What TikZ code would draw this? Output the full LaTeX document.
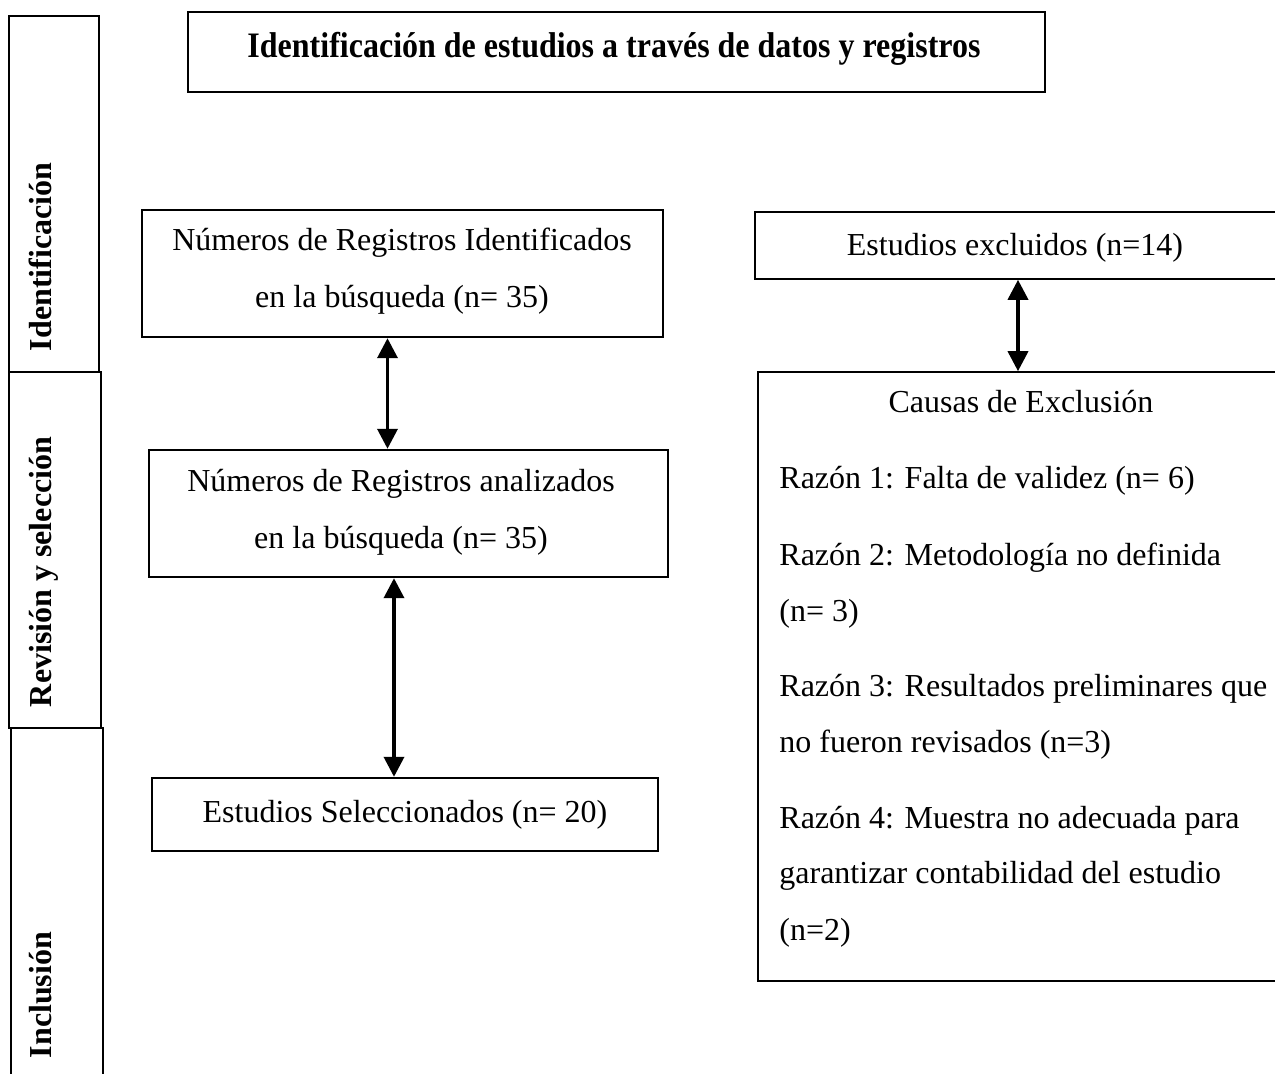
\documentclass[tikz,border=0pt]{standalone}
\usepackage{fontspec}
\setmainfont{Liberation Serif}
\usetikzlibrary{arrows.meta,fit}
\begin{document}
\begin{tikzpicture}[x=0.5pt,y=-0.5pt,
  frame/.style={draw,inner sep=0pt,line width=1.2pt},
  thinframe/.style={draw,inner sep=0pt,line width=0.8pt},
  sideframe/.style={draw,inner sep=0pt,line width=1.4pt},
  txt/.style={inner sep=0pt,font=\fontsize{16}{19}\selectfont},
  vlab/.style={inner sep=0pt,rotate=90,anchor=base,font=\fontsize{16}{19}\selectfont\bfseries},
  arr/.style={{Triangle[width=10pt,length=10pt]}-{Triangle[width=10pt,length=10pt]},line width=1.8pt}]
\useasboundingbox (0,0) rectangle (1275,1074);
\clip (0,0) rectangle (1275,1074);
\fill[white] (0,0) rectangle (1275,1074);

% left phase column
\node[sideframe,fit={(9,16) (99,372)}] (ph1) {};
\node[sideframe,fit={(9,372) (101,728)}] (ph2) {};
\node[sideframe,fit={(11,728) (103,1100)}] (ph3) {};
\node[vlab] (ph1t) at (51,257) {Identificación};
\node[vlab] (ph2t) at (51,572) {Revisión y selección};
\node[vlab] (ph3t) at (51,995) {Inclusión};

% title
\node[sideframe,fit={(188,12) (1045,92)}] (tb) {};
\node[txt,anchor=base,font=\fontsize{16}{19}\selectfont\bfseries] (tt) at (614,58) {\scalebox{1}[1.12]{Identificación de estudios a través de datos y registros}};

% main boxes
\node[frame,fit={(142,210) (663,337)}] (b1) {};
\node[txt,anchor=base] (b1a) at (402,251) {Números de Registros Identificados};
\node[txt,anchor=base] (b1b) at (402,308) {en la búsqueda (n= 35)};

\node[frame,fit={(149,450) (668,577)}] (b2) {};
\node[txt,anchor=base] (b2a) at (401,492) {Números de Registros analizados};
\node[txt,anchor=base] (b2b) at (401,549) {en la búsqueda (n= 35)};

\node[frame,fit={(152,778) (658,851)}] (b3) {};
\node[txt,anchor=base] (b3a) at (405,822) {Estudios Seleccionados (n= 20)};

% right boxes
\node[thinframe,fit={(755,212) (1290,279)}] (b4) {};
\node[txt,anchor=base] (b4a) at (1015,256) {Estudios excluidos (n=14)};

\node[thinframe,fit={(758,372) (1290,981)}] (b5) {};
\node[txt,anchor=base] (c0) at (1021,413) {Causas de Exclusión};
\node[txt,anchor=base west] (c1) at (779,489) {Razón 1: Falta de validez (n= 6)};
\node[txt,anchor=base west] (c2) at (779,566) {Razón 2: Metodología no definida};
\node[txt,anchor=base west] (c3) at (779,622) {(n= 3)};
\node[txt,anchor=base west] (c4) at (779,697) {Razón 3: Resultados preliminares que};
\node[txt,anchor=base west] (c5) at (779,753) {no fueron revisados (n=3)};
\node[txt,anchor=base west] (c6) at (779,828) {Razón 4: Muestra no adecuada para};
\node[txt,anchor=base west] (c7) at (779,883) {garantizar contabilidad del estudio};
\node[txt,anchor=base west] (c8) at (779,940) {(n=2)};

% connectors
\coordinate (ax1) at (387.5,0);
\coordinate (ax2) at (394,0);
\coordinate (ax3) at (1018,0);
\draw[arr] (b1.south -| ax1) -- (b2.north -| ax1);
\draw[arr] (b2.south -| ax2) -- (b3.north -| ax2);
\draw[arr] (b4.south -| ax3) -- (b5.north -| ax3);
\end{tikzpicture}
\end{document}
